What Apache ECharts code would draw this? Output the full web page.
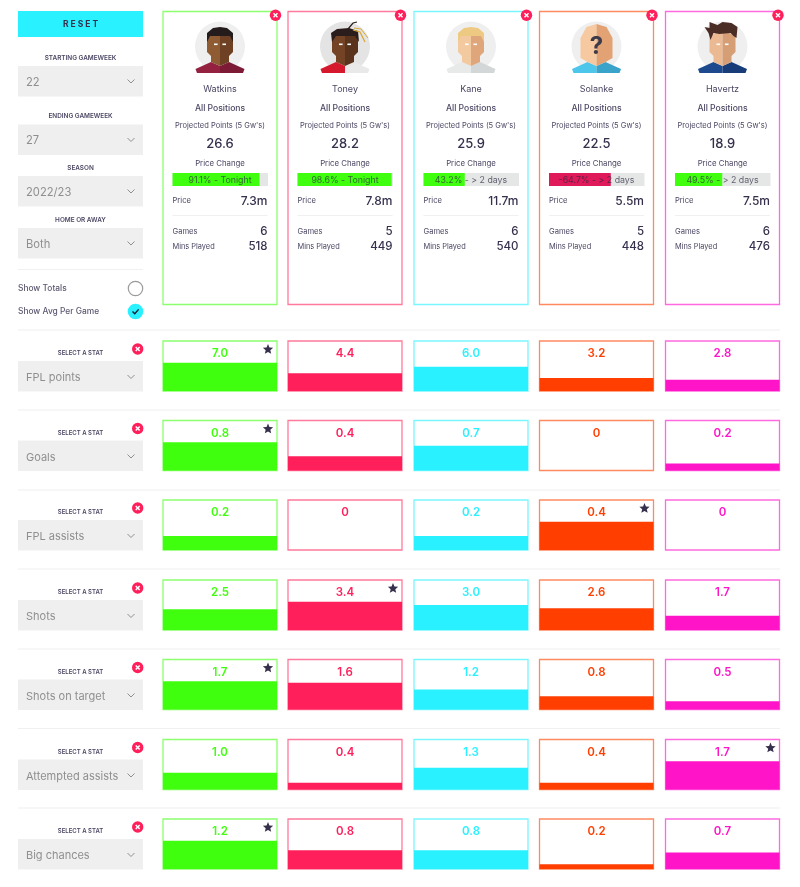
<!DOCTYPE html>
<html>
<head>
<meta charset="utf-8">
<title>Player comparison</title>
<script src="https://cdn.jsdelivr.net/npm/echarts@6/dist/echarts.min.js"></script>
<style>
html, body { margin: 0; padding: 0; background: #fff; }
#main { width: 800px; height: 887px; }
</style>
</head>
<body>
<div id="main"></div>
<script>
// data
var players = ['Watkins', 'Toney', 'Kane', 'Solanke', 'Havertz'];
var projected = ['26.6', '28.2', '25.9', '22.5', '18.9'];
var priceChange = [91.1, 98.6, 43.2, -64.7, 49.5];
var priceWhen = ['Tonight', 'Tonight', '> 2 days', '> 2 days', '> 2 days'];
var prices = ['7.3m', '7.8m', '11.7m', '5.5m', '7.5m'];
var games = [6, 5, 6, 5, 6];
var minsPlayed = [518, 449, 540, 448, 476];

var statNames = ['FPL points', 'Goals', 'FPL assists', 'Shots', 'Shots on target', 'Attempted assists', 'Big chances'];
var fplPoints = [7.0, 4.4, 6.0, 3.2, 2.8];
var goals = [0.8, 0.4, 0.7, 0, 0.2];
var fplAssists = [0.2, 0, 0.2, 0.4, 0];
var shots = [2.5, 3.4, 3.0, 2.6, 1.7];
var shotsOnTarget = [1.7, 1.6, 1.2, 0.8, 0.5];
var attemptedAssists = [1.0, 0.4, 1.3, 0.4, 1.7];
var bigChances = [1.2, 0.8, 0.8, 0.2, 0.7];
var statValues = [fplPoints, goals, fplAssists, shots, shotsOnTarget, attemptedAssists, bigChances];
var statAxisMax = [12.4, 1.41, 0.71, 6.0, 3.0, 3.0, 2.12];

var filterLabels = ['STARTING GAMEWEEK', 'ENDING GAMEWEEK', 'SEASON', 'HOME OR AWAY'];
var filterValues = ['22', '27', '2022/23', 'Both'];

// layout + colours
var FONT = 'Inter, Lato, "Noto Sans", sans-serif';
var DARK = '#37304d';
var colors = ['#40ff0e', '#ff1f5a', '#29f1ff', '#ff3e00', '#ff14c8'];
var borders = ['#8cff6e', '#ff7a9c', '#7af6ff', '#ff8a60', '#ff6ae0'];
var cardLeft = [163, 288, 414, 539.5, 665.5];
var cardW = 114;
var rowTops = [341, 420.5, 500, 580, 659.5, 739.5, 819];
var rowH = 50;
var filterLabelY = [57, 115.5, 167.5, 219];
var filterTops = [66, 124.5, 176, 228];
var sepY = [329.5, 409.5, 489.5, 568.5, 648.5, 728, 807.5];

var myChart = echarts.init(document.getElementById('main'));
var els = [];

function txt(s, x, y, size, color, align, weight) {
    els.push({
        type: 'text', z: 10, silent: true,
        style: {
            text: s, x: x, y: y + 0.7, fill: color || DARK, align: align || 'center', verticalAlign: 'middle',
            font: (weight || 'normal') + ' ' + size + 'px ' + FONT
        }
    });
}
function rect(x, y, w, h, fill, stroke, z) {
    els.push({
        type: 'rect', z: z || 0, silent: true, shape: { x: x, y: y, width: w, height: h },
        style: { fill: fill || 'none', stroke: stroke || 'none', lineWidth: stroke ? 1.3 : 0 }
    });
}
function poly(pts, fill, z) {
    els.push({ type: 'polygon', z: z || 1, silent: true, shape: { points: pts }, style: { fill: fill } });
}
function line(pts, color, w, z) {
    els.push({
        type: 'polyline', z: z || 10, silent: true, shape: { points: pts },
        style: { fill: 'none', stroke: color, lineWidth: w }
    });
}
function circle(cx, cy, r, fill, stroke, z) {
    els.push({
        type: 'circle', z: z || 1, silent: true, shape: { cx: cx, cy: cy, r: r },
        style: { fill: fill, stroke: stroke || 'none', lineWidth: stroke ? 1.2 : 0 }
    });
}
function chevron(x, y) {
    line([[x - 3.5, y - 2], [x, y + 1.5], [x + 3.5, y - 2]], '#8f8f8f', 1);
}
function closeBtn(x, y) {
    circle(x, y, 5.7, '#ff1f5a', null, 10);
    line([[x - 2, y - 2], [x + 2, y + 2]], '#fff', 1.5, 11);
    line([[x + 2, y - 2], [x - 2, y + 2]], '#fff', 1.5, 11);
}
function star(cx, cy, r) {
    var pts = [];
    for (var i = 0; i < 10; i++) {
        var a = -Math.PI / 2 + i * Math.PI / 5;
        var rr = i % 2 ? r * 0.45 : r;
        pts.push([cx + rr * Math.cos(a), cy + rr * Math.sin(a)]);
    }
    poly(pts, DARK, 10);
}
function shift(cx, pts) {
    return pts.map(function (p) { return [cx + p[0], p[1]]; });
}

// small flat face, drawn as decoration
var avatars = [
    { bg: '#efefef', skinL: '#8f5b33', skinR: '#6e4024', hair: '#241b1d', shirtL: '#94213f', shirtR: '#7d1b36' },
    { bg: '#e4e4e4', skinL: '#744325', skinR: '#5a331c', hair: '#2a1d1b', shirtL: '#d5182b', shirtR: '#e9e9e9', dreads: true },
    { bg: '#efefef', skinL: '#f3c9a0', skinR: '#dfa67c', hair: '#edc981', shirtL: '#e8eaea', shirtR: '#d3d7d7' },
    { bg: '#efefef', skinL: '#f6c9a0', skinR: '#e2a273', shirtL: '#4cc6ea', shirtR: '#3aa3ca', unknown: true },
    { bg: '#efefef', skinL: '#ecba92', skinR: '#d69e75', hair: '#4a2e25', shirtL: '#1d4a8e', shirtR: '#173c78', messy: true }
];
function avatar(cx, a) {
    circle(cx, 46.5, 25, a.bg);
    poly(shift(cx, [[-24.5, 69], [-9, 62], [0, 66], [0, 73], [-23, 73]]), a.shirtL, 2);
    poly(shift(cx, [[24.5, 69], [9, 62], [0, 66], [0, 73], [23, 73]]), a.shirtR, 2);
    if (a.unknown) {
        poly(shift(cx, [[-16, 38], [-10, 27], [0, 24], [0, 66], [-9, 62], [-16, 58]]), a.skinL, 3);
        poly(shift(cx, [[16, 38], [10, 27], [0, 24], [0, 66], [9, 62], [16, 58]]), a.skinR, 3);
        txt('?', cx, 46, 24, '#3d3b4a', 'center', 'bold');
        return;
    }
    poly(shift(cx, [[-13, 36], [0, 30], [0, 66], [-9, 62], [-9, 56], [-13, 52]]), a.skinL, 3);
    poly(shift(cx, [[13, 36], [0, 30], [0, 66], [9, 62], [9, 56], [13, 52]]), a.skinR, 3);
    if (a.messy) {
        poly(shift(cx, [[-14, 33], [-18, 27], [-13, 28], [-13, 22], [-5, 25], [0, 22], [9, 23], [15, 27], [14, 38], [11, 36], [8, 33], [-3, 34], [-9, 33], [-12, 40]]), a.hair, 4);
    } else if (a.dreads) {
        poly(shift(cx, [[-13, 42], [-14, 33], [-8, 29], [4, 28], [13, 31], [14, 42], [10, 36], [-9, 36]]), a.hair, 4);
        line(shift(cx, [[3, 29], [8, 23], [12, 22]]), a.hair, 1.2, 4);
        line(shift(cx, [[8, 30], [15, 32], [20, 42]]), '#d9a93b', 1.3, 4);
        line(shift(cx, [[9, 28], [16, 29], [23, 38]]), '#d9a93b', 1, 4);
    } else {
        poly(shift(cx, [[-13, 42], [-13, 33], [-7, 28], [0, 27], [7, 28], [13, 33], [13, 42], [10, 36], [-10, 36]]), a.hair, 4);
    }
    rect(cx - 6, 43.5, 3.6, 1.6, '#fff', null, 5);
    rect(cx + 2.4, 43.5, 3.6, 1.6, '#fff', null, 5);
}

// left panel
rect(18, 11, 125, 26, '#29f1ff');
txt('R E S E T', 80.5, 24, 8.5, DARK, 'center', 'bold');
filterLabels.forEach(function (lab, i) {
    txt(lab, 80.5, filterLabelY[i], 6.4, '#4b4663', 'center', '600');
    rect(18, filterTops[i], 125, 30.5, '#efefef');
    txt(filterValues[i], 26, filterTops[i] + 15.5, 11.2, '#8f8f8f', 'left');
    chevron(131, filterTops[i] + 15.5);
});
rect(18, 269, 125, 1, '#f0f0f0');
txt('Show Totals', 18, 287.5, 8.4, '#5c5870', 'left', '500');
circle(135.5, 288.5, 7.2, '#fff', '#9a9a9a', 2);
txt('Show Avg Per Game', 18, 310.5, 8.4, '#5c5870', 'left', '500');
circle(135.5, 311.5, 7.8, '#29f1ff');
line([[132.5, 311.5], [134.8, 313.8], [138.6, 309.4]], '#1d1a30', 1.4);

// separators between the stat rows
sepY.forEach(function (y) { rect(18, y, 762, 1, '#f0f0f0'); });

// player cards on top
players.forEach(function (name, i) {
    var x = cardLeft[i], mid = x + cardW / 2, right = x + cardW - 9.5, left = x + 9.5;
    rect(x, 11.5, cardW, 293, '#fff', borders[i]);
    closeBtn(x + cardW - 1.5, 15.3);
    avatar(mid, avatars[i]);
    txt(name, mid, 88.5, 9, '#4b4663');
    txt('All Positions', mid, 108, 8.6, '#4b4663', 'center', '500');
    txt("Projected Points (5 Gw's)", mid, 125, 7.5, '#4b4663');
    txt(projected[i], mid, 143.5, 13, DARK, 'center', '500');
    txt('Price Change', mid, 163, 7.8, '#4b4663');
    txt(priceChange[i].toFixed(1) + '% - ' + priceWhen[i], mid, 180, 8.8, 'rgba(45,40,65,0.72)');
    txt('Price', left, 200.5, 7.6, '#4b4663', 'left');
    txt(prices[i], right, 200.5, 12, DARK, 'right', '500');
    rect(left, 215, 95, 1, '#f0f0f0');
    txt('Games', left, 231, 7.6, '#4b4663', 'left');
    txt(String(games[i]), right, 231, 11.5, DARK, 'right', '500');
    txt('Mins Played', left, 246, 7.4, '#4b4663', 'left');
    txt(String(minsPlayed[i]), right, 246, 11.5, DARK, 'right', '500');
});

var grids = [], xAxes = [], yAxes = [], series = [];
function hiddenAxis(o) {
    o.show = false;
    return o;
}

// price change meters
priceChange.forEach(function (v, i) {
    grids.push({ left: cardLeft[i] + 9.5, top: 173, width: 95.5, height: 13 });
    xAxes.push(hiddenAxis({ type: 'value', gridIndex: grids.length - 1, min: 0, max: 100 }));
    yAxes.push(hiddenAxis({ type: 'category', gridIndex: grids.length - 1, data: ['change'] }));
    series.push({
        type: 'bar', xAxisIndex: grids.length - 1, yAxisIndex: grids.length - 1, barWidth: '100%', silent: true,
        showBackground: true, backgroundStyle: { color: '#e5e7e6' },
        itemStyle: { color: v < 0 ? '#e0195a' : '#40ff0e' },
        data: [Math.abs(v)]
    });
});

// stat rows
statNames.forEach(function (stat, r) {
    var top = rowTops[r], vals = statValues[r];
    var best = Math.max.apply(null, vals);
    txt('SELECT A STAT', 80.5, top + 12, 6, '#4b4663', 'center', '600');
    closeBtn(137.7, top + 8);
    rect(18, top + 20, 125, 30.5, '#efefef');
    txt(stat, 26, top + 36, 11, '#8f8f8f', 'left');
    chevron(131, top + 36);
    vals.forEach(function (v, c) {
        var idx = grids.length;
        rect(cardLeft[c], top, cardW, rowH, '#fff', borders[c]);
        grids.push({ left: cardLeft[c], top: top, width: cardW, height: rowH });
        xAxes.push(hiddenAxis({ type: 'category', gridIndex: idx, data: [players[c]] }));
        yAxes.push(hiddenAxis({ type: 'value', gridIndex: idx, min: 0, max: statAxisMax[r] }));
        series.push({
            name: stat, type: 'bar', xAxisIndex: idx, yAxisIndex: idx, barWidth: '100%', silent: true,
            itemStyle: { color: colors[c] }, data: [v]
        });
        txt(v === 0 ? '0' : v.toFixed(1), cardLeft[c] + cardW / 2, top + 12, 11.5, colors[c], 'center', '600');
        if (v === best) star(cardLeft[c] + cardW - 9, top + 8.5, 5.4);
    });
});

var option = {
    animation: false,
    backgroundColor: '#fff',
    tooltip: { show: false },
    grid: grids,
    xAxis: xAxes,
    yAxis: yAxes,
    series: series,
    graphic: { elements: els }
};
myChart.setOption(option);
</script>
</body>
</html>
